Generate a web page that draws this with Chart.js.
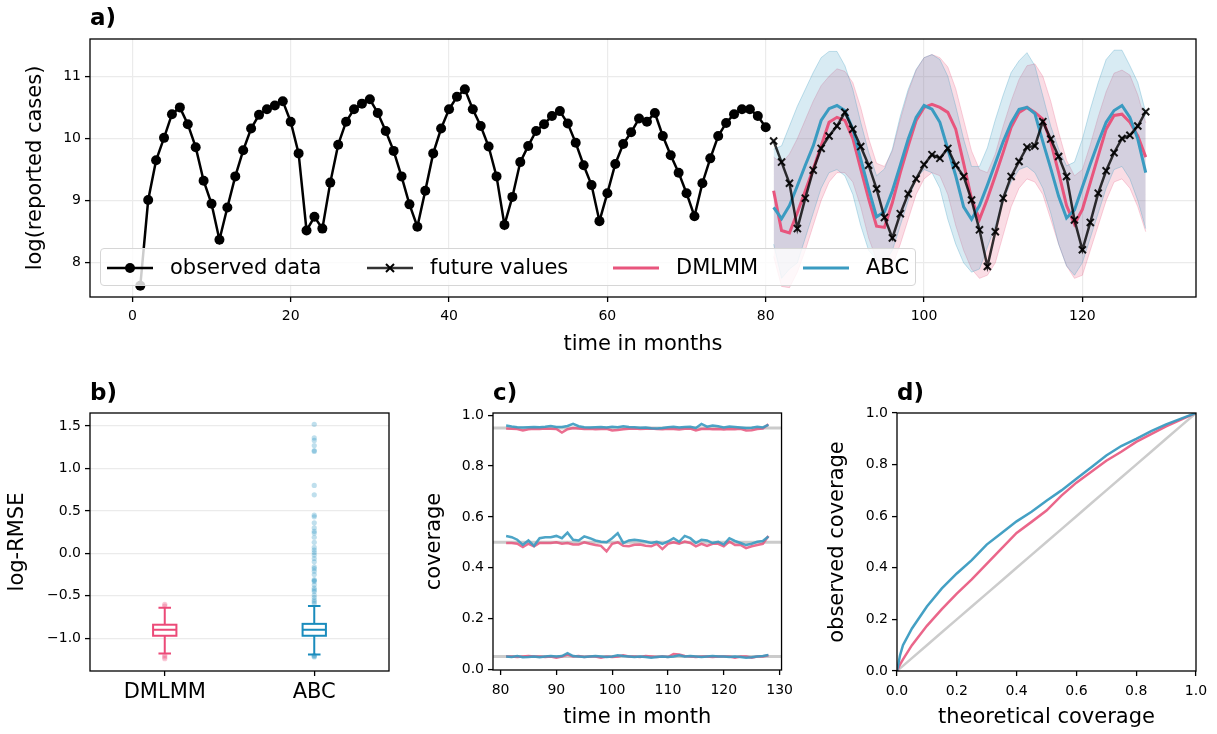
<!DOCTYPE html>
<html>
<head>
<meta charset="utf-8">
<script src="https://cdn.jsdelivr.net/npm/chart.js@4.4.1/dist/chart.umd.min.js"></script>
<style>
  body { margin: 0; background: #fff; width: 1217px; height: 734px; position: relative; overflow: hidden; font-family: "DejaVu Sans", sans-serif; }
  .panel { position: absolute; }
  .tag { position: absolute; font-weight: bold; font-size: 23px; line-height: 1; color: #000; }
  #legend { position: absolute; left: 100px; top: 248px; width: 816px; height: 38px; box-sizing: border-box;
            border: 1px solid #d6d6d6; border-radius: 4px; background: rgba(255,255,255,0.8); }
  #legend .item { position: absolute; top: 0; height: 38px; line-height: 38px; font-size: 21px; white-space: nowrap; }
  #legend svg { position: absolute; top: 9px; left: 0; }
  #legend span { position: absolute; left: 63px; top: -1px; }
</style>
</head>
<body>
<div class="panel" style="left:0;top:0;width:1217px;height:365px"><canvas id="chartA" width="1217" height="365"></canvas></div>
<div class="panel" style="left:0;top:380px;width:400px;height:354px"><canvas id="chartB" width="400" height="354"></canvas></div>
<div class="panel" style="left:400px;top:380px;width:400px;height:354px"><canvas id="chartC" width="400" height="354"></canvas></div>
<div class="panel" style="left:800px;top:380px;width:417px;height:354px"><canvas id="chartD" width="417" height="354"></canvas></div>

<div class="tag" style="left:90px;top:6px">a)</div>
<div class="tag" style="left:90px;top:381px">b)</div>
<div class="tag" style="left:493px;top:381px">c)</div>
<div class="tag" style="left:897px;top:381px">d)</div>

<div id="legend">
  <div class="item" style="left:6px">
    <svg width="46" height="20"><line x1="0" y1="10" x2="46" y2="10" stroke="#000" stroke-width="2.5"/><circle cx="23" cy="10" r="5" fill="#000"/></svg>
    <span>observed data</span>
  </div>
  <div class="item" style="left:266px">
    <svg width="46" height="20"><line x1="0" y1="10" x2="46" y2="10" stroke="rgba(0,0,0,0.8)" stroke-width="2.5"/><path d="M19 6 L27 14 M27 6 L19 14" stroke="#000" stroke-width="2"/></svg>
    <span>future values</span>
  </div>
  <div class="item" style="left:512px">
    <svg width="46" height="20"><line x1="0" y1="10" x2="46" y2="10" stroke="#e8557d" stroke-width="3"/></svg>
    <span>DMLMM</span>
  </div>
  <div class="item" style="left:702px">
    <svg width="46" height="20"><line x1="0" y1="10" x2="46" y2="10" stroke="#3a9bc1" stroke-width="3"/></svg>
    <span>ABC</span>
  </div>
</div>

<script>
// ---- panel a: observed series (months 1..80) and forecasts (months 81..128)
const obsStart = 1;
const observed = [7.63, 9.01, 9.65, 10.01, 10.39, 10.50, 10.23, 9.86, 9.32, 8.95,
  8.37, 8.89, 9.39, 9.81, 10.16, 10.38, 10.47, 10.53, 10.60, 10.27,
  9.76, 8.52, 8.74, 8.55, 9.29, 9.90, 10.27, 10.47, 10.56, 10.63,
  10.41, 10.12, 9.80, 9.39, 8.94, 8.58, 9.16, 9.76, 10.16, 10.47,
  10.67, 10.79, 10.47, 10.20, 9.87, 9.39, 8.61, 9.06, 9.62, 9.88,
  10.12, 10.23, 10.36, 10.44, 10.24, 9.93, 9.57, 9.25, 8.67, 9.12,
  9.59, 9.91, 10.10, 10.32, 10.27, 10.41, 10.04, 9.73, 9.45, 9.12,
  8.75, 9.28, 9.68, 10.04, 10.25, 10.39, 10.47, 10.47, 10.36, 10.18];

const futStart = 81;
const futureVals = [9.96, 9.62, 9.28, 8.55, 9.04, 9.49, 9.84, 10.04, 10.20, 10.42,
  10.15, 9.87, 9.57, 9.19, 8.73, 8.40, 8.79, 9.11, 9.35, 9.58,
  9.74, 9.68, 9.84, 9.57, 9.39, 9.01, 8.53, 7.94, 8.50, 9.04,
  9.39, 9.63, 9.86, 9.88, 10.27, 9.99, 9.71, 9.39, 8.69, 8.21,
  8.65, 9.12, 9.48, 9.77, 10.00, 10.05, 10.20, 10.43];

const dmlmmMean = [9.16, 8.52, 8.48, 8.81, 9.16, 9.51, 9.88, 10.26, 10.34, 10.29,
  10.00, 9.51, 9.03, 8.59, 8.57, 8.97, 9.45, 9.88, 10.29, 10.50,
  10.55, 10.50, 10.42, 10.15, 9.60, 9.03, 8.70, 9.03, 9.40, 9.78,
  10.18, 10.42, 10.50, 10.42, 10.31, 9.94, 9.45, 8.92, 8.62, 8.86,
  9.29, 9.72, 10.15, 10.37, 10.39, 10.26, 10.04, 9.70];
const dmlmmUpper = [9.70, 9.60, 9.75, 10.00, 10.30, 10.60, 10.85, 11.00, 11.12, 11.08,
  10.90, 10.50, 10.00, 9.60, 9.55, 9.80, 10.30, 10.75, 11.10, 11.30,
  11.35, 11.30, 11.15, 10.80, 10.30, 9.80, 9.50, 9.45, 9.75, 10.20,
  10.60, 10.95, 11.17, 11.20, 11.00, 10.60, 10.10, 9.65, 9.40, 9.50,
  9.90, 10.35, 10.75, 11.05, 11.10, 11.02, 10.70, 10.25];
const dmlmmLower = [8.10, 7.62, 7.60, 7.85, 8.20, 8.60, 9.00, 9.30, 9.45, 9.45,
  9.30, 8.90, 8.40, 8.05, 7.95, 7.95, 8.30, 8.70, 9.10, 9.35,
  9.45, 9.40, 9.10, 8.60, 8.20, 7.90, 7.75, 7.80, 8.00, 8.45,
  8.90, 9.20, 9.35, 9.30, 9.10, 8.70, 8.30, 7.95, 7.75, 7.80,
  8.20, 8.60, 9.00, 9.30, 9.35, 9.20, 8.90, 8.50];

const abcMean = [8.89, 8.71, 8.92, 9.24, 9.57, 9.88, 10.29, 10.48, 10.53, 10.45,
  10.15, 9.67, 9.19, 8.74, 8.82, 9.16, 9.57, 9.99, 10.34, 10.53,
  10.47, 10.26, 9.83, 9.40, 8.90, 8.70, 8.92, 9.25, 9.60, 9.95,
  10.25, 10.47, 10.50, 10.40, 9.95, 9.52, 9.07, 8.72, 8.85, 9.22,
  9.59, 9.94, 10.26, 10.45, 10.53, 10.34, 9.99, 9.45];
const abcUpper = [9.83, 9.88, 10.20, 10.52, 10.79, 11.06, 11.30, 11.40, 11.40, 11.17,
  10.79, 10.26, 9.78, 9.40, 9.51, 9.83, 10.36, 10.79, 11.11, 11.30,
  11.35, 11.27, 11.00, 10.52, 9.99, 9.55, 9.55, 9.85, 10.30, 10.70,
  11.06, 11.25, 11.38, 11.17, 10.69, 10.20, 9.83, 9.56, 9.62, 9.99,
  10.47, 10.90, 11.27, 11.42, 11.42, 11.17, 10.90, 10.42];
const abcLower = [8.30, 7.75, 7.90, 8.00, 8.40, 8.80, 9.20, 9.45, 9.50, 9.40,
  9.10, 8.60, 8.20, 8.05, 8.00, 8.20, 8.60, 9.00, 9.35, 9.50,
  9.45, 9.20, 8.70, 8.30, 8.00, 7.85, 7.90, 8.25, 8.60, 9.00,
  9.30, 9.50, 9.55, 9.45, 9.20, 8.80, 8.30, 7.95, 7.80, 8.00,
  8.40, 8.80, 9.20, 9.50, 9.55, 9.35, 9.00, 8.55];

const aTicksX = [0, 20, 40, 60, 80, 100, 120];
const aTicksY = [8, 9, 10, 11];

// ---- panel b: log-RMSE boxes
const boxNames = ['DMLMM', 'ABC'];
const boxQ1 = [-0.97, -0.97];
const boxMed = [-0.90, -0.90];
const boxQ3 = [-0.84, -0.83];
const whiskLo = [-1.18, -1.19];
const whiskHi = [-0.64, -0.62];
const dmlmmFliers = [-0.60, -0.62, -1.20, -1.22, -1.24];
const abcFliers = [1.52, 1.36, 1.33, 1.27, 1.21, 1.20, 0.80, 0.69, 0.45, 0.43, 0.36, 0.30, 0.26, 0.24,
  0.19, 0.13, 0.07, 0.04, 0.01, -0.02, -0.06, -0.10, -0.16, -0.18, -0.21, -0.25, -0.31, -0.32,
  -0.33, -0.37, -0.41, -0.43, -0.45, -0.49, -0.52, -0.55, -0.57, -0.59, -1.20, -1.21, -1.22];
const bTicksY = [-1.0, -0.5, 0.0, 0.5, 1.0, 1.5];

// ---- panel c: coverage per month (months 81..128) at the 5%, 50%, 95% levels
const refLevels = [0.05, 0.5, 0.95];
const covHiD = [.948, .947, .946, .940, .945, .947, .946, .948, .947, .946,
  .932, .945, .950, .948, .946, .947, .945, .946, .947, .940,
  .942, .945, .947, .948, .946, .947, .948, .946, .945, .947,
  .946, .944, .947, .948, .940, .946, .947, .945, .946, .944,
  .946, .945, .947, .940, .941, .946, .948, .965];
const covHiA = [.960, .956, .953, .952, .953, .954, .953, .955, .958, .954,
  .954, .958, .966, .957, .953, .952, .953, .954, .952, .955,
  .953, .957, .954, .953, .951, .952, .949, .948, .950, .953,
  .955, .952, .954, .955, .950, .966, .955, .960, .957, .952,
  .956, .954, .952, .950, .951, .955, .952, .962];
const covMidD = [.497, .497, .494, .481, .494, .484, .497, .497, .497, .500,
  .494, .497, .491, .491, .500, .494, .489, .486, .464, .494,
  .500, .486, .484, .490, .491, .486, .484, .494, .473, .494,
  .500, .494, .503, .497, .484, .494, .486, .494, .494, .484,
  .503, .489, .490, .477, .484, .489, .494, .525];
const covMidA = [.525, .520, .510, .490, .507, .486, .516, .520, .520, .525,
  .516, .538, .510, .507, .523, .516, .507, .502, .500, .516,
  .536, .497, .507, .510, .507, .503, .497, .502, .494, .503,
  .516, .502, .525, .516, .497, .510, .507, .497, .502, .491,
  .516, .505, .497, .489, .494, .502, .505, .523];
const covLoD = [.050, .050, .048, .050, .052, .050, .050, .048, .050, .045,
  .050, .058, .050, .052, .048, .050, .050, .045, .050, .048,
  .050, .055, .050, .050, .048, .052, .050, .048, .050, .048,
  .060, .058, .052, .050, .048, .050, .050, .048, .050, .050,
  .050, .045, .050, .050, .045, .050, .050, .055];
const covLoA = [.050, .048, .052, .047, .048, .050, .047, .050, .052, .050,
  .052, .063, .052, .050, .048, .050, .052, .050, .048, .050,
  .055, .052, .050, .048, .050, .048, .045, .048, .050, .048,
  .050, .055, .050, .052, .050, .048, .050, .052, .050, .050,
  .048, .050, .048, .045, .047, .050, .052, .056];
const cTicksX = [80, 90, 100, 110, 120, 130];
const unitTicks = [0, 0.2, 0.4, 0.6, 0.8, 1.0];

// ---- panel d: calibration curves
const theoCov = [0, 0.01, 0.02, 0.05, 0.1, 0.15, 0.2, 0.25, 0.3, 0.35, 0.4, 0.45, 0.5,
  0.55, 0.6, 0.65, 0.7, 0.75, 0.8, 0.85, 0.9, 0.95, 1.0];
const obsCovABC = [0, 0.06, 0.10, 0.165, 0.25, 0.32, 0.378, 0.43, 0.49, 0.535, 0.58, 0.617, 0.66,
  0.70, 0.745, 0.79, 0.835, 0.872, 0.90, 0.93, 0.956, 0.978, 1.0];
const obsCovDML = [0, 0.025, 0.045, 0.10, 0.175, 0.24, 0.30, 0.355, 0.415, 0.475, 0.535, 0.578, 0.622,
  0.68, 0.73, 0.772, 0.815, 0.85, 0.888, 0.918, 0.948, 0.974, 1.0];

const PINK = '#e8557d';
const BLUE = '#3a9bc1';
const BOX_COLORS = ['#ec4a78', '#1a8cbd'];

Chart.defaults.font.family = "'DejaVu Sans', sans-serif";
Chart.defaults.font.size = 14;
Chart.defaults.color = '#000';
Chart.defaults.animation = false;
Chart.defaults.plugins.legend.display = false;
Chart.defaults.plugins.tooltip.enabled = false;
Chart.defaults.elements.line.tension = 0;

const frame = {
  id: 'frame',
  afterDraw(chart) {
    const { ctx, chartArea: a } = chart;
    ctx.save();
    ctx.strokeStyle = '#000';
    ctx.lineWidth = 1.3;
    ctx.strokeRect(a.left, a.top, a.right - a.left, a.bottom - a.top);
    ctx.restore();
  }
};

const pts = (start, ys) => ys.map((y, i) => ({ x: start + i, y }));
const minusFmt = v => (v < 0 ? '\u2212' + Math.abs(v).toFixed(1) : v.toFixed(1));

function axis({ min, max, ticks, fmt, size, title, titlePad, grid, tickFont = 14, tickPad = 5 }) {
  return {
    type: 'linear', min, max,
    afterBuildTicks: s => { s.ticks = ticks.map(v => ({ value: v })); },
    afterFit: s => { if (s.isHorizontal()) s.height = size; else s.width = size; },
    ticks: { callback: fmt, font: { size: tickFont }, padding: tickPad, color: '#000', maxRotation: 0, autoSkip: false },
    grid: { drawOnChartArea: !!grid, color: grid || 'transparent', lineWidth: 1.2, tickLength: 5, tickColor: '#000', tickWidth: 1.3 },
    border: { display: false },
    title: { display: !!title, text: title, font: { size: 21 }, color: '#000', padding: titlePad || 0 }
  };
}

const opts = (padding, x, y) => ({
  responsive: false, devicePixelRatio: 1,
  layout: { padding },
  scales: { x, y }
});

// ---- a)
new Chart(document.getElementById('chartA'), {
  type: 'line',
  data: {
    datasets: [
      { data: pts(obsStart, observed), borderColor: '#000', backgroundColor: '#000', borderWidth: 2.5,
        pointRadius: 5, pointBorderWidth: 0 },
      { data: pts(futStart, futureVals), borderColor: 'rgba(0,0,0,0.8)', borderWidth: 2.5,
        pointStyle: 'crossRot', pointRadius: 5, pointBorderWidth: 2, pointBorderColor: 'rgba(0,0,0,0.9)' },
      { data: pts(futStart, abcMean), borderColor: BLUE, borderWidth: 3, pointRadius: 0 },
      { data: pts(futStart, dmlmmMean), borderColor: PINK, borderWidth: 3, pointRadius: 0 },
      { data: pts(futStart, abcUpper), borderColor: 'rgba(58,155,193,0.3)', borderWidth: 1, pointRadius: 0,
        fill: '+1', backgroundColor: 'rgba(58,155,193,0.2)' },
      { data: pts(futStart, abcLower), borderColor: 'rgba(58,155,193,0.3)', borderWidth: 1, pointRadius: 0 },
      { data: pts(futStart, dmlmmUpper), borderColor: 'rgba(232,85,125,0.25)', borderWidth: 1, pointRadius: 0,
        fill: '+1', backgroundColor: 'rgba(232,85,125,0.2)' },
      { data: pts(futStart, dmlmmLower), borderColor: 'rgba(232,85,125,0.25)', borderWidth: 1, pointRadius: 0 }
    ]
  },
  options: opts({ left: 0, right: 21, top: 39, bottom: 0 },
    axis({ min: -5.35, max: 134.35, ticks: aTicksX, fmt: v => String(v), size: 68, tickPad: 6,
           title: 'time in months', titlePad: { top: 0, bottom: 7.4 }, grid: '#ebebeb' }),
    axis({ min: 7.45, max: 11.6, ticks: aTicksY, fmt: v => String(v), size: 90, tickPad: 4,
           title: 'log(reported cases)', titlePad: { top: 23.4, bottom: 0 }, grid: '#ebebeb' })),
  plugins: [frame]
});

// ---- b)
const boxes = {
  id: 'boxes',
  afterDatasetsDraw(chart) {
    const { ctx, scales: { x, y } } = chart;
    ctx.save();
    ctx.lineWidth = 2;
    boxNames.forEach((name, i) => {
      const cx = x.getPixelForValue(i + 1);
      const half = x.getPixelForValue(i + 1.078) - cx;
      const cap = x.getPixelForValue(i + 1.042) - cx;
      ctx.strokeStyle = BOX_COLORS[i];
      const q1 = y.getPixelForValue(boxQ1[i]), q3 = y.getPixelForValue(boxQ3[i]);
      const med = y.getPixelForValue(boxMed[i]);
      const lo = y.getPixelForValue(whiskLo[i]), hi = y.getPixelForValue(whiskHi[i]);
      ctx.beginPath();
      ctx.moveTo(cx, q1); ctx.lineTo(cx, lo);
      ctx.moveTo(cx, q3); ctx.lineTo(cx, hi);
      ctx.moveTo(cx - cap, lo); ctx.lineTo(cx + cap, lo);
      ctx.moveTo(cx - cap, hi); ctx.lineTo(cx + cap, hi);
      ctx.moveTo(cx - half, med); ctx.lineTo(cx + half, med);
      ctx.stroke();
      ctx.strokeRect(cx - half, q3, 2 * half, q1 - q3);
    });
    ctx.restore();
  }
};

new Chart(document.getElementById('chartB'), {
  type: 'scatter',
  data: {
    datasets: [
      { data: dmlmmFliers.map(v => ({ x: 1, y: v })), backgroundColor: 'rgba(236,74,120,0.3)', pointRadius: 2.6, borderWidth: 0 },
      { data: abcFliers.map(v => ({ x: 2, y: v })), backgroundColor: 'rgba(26,140,189,0.28)', pointRadius: 2.6, borderWidth: 0 }
    ]
  },
  options: opts({ left: 0, right: 11, top: 33, bottom: 0 },
    axis({ min: 0.5, max: 2.5, ticks: [1, 2], fmt: v => boxNames[v - 1], size: 63, tickFont: 21, tickPad: 4 }),
    axis({ min: -1.385, max: 1.653, ticks: bTicksY, fmt: minusFmt, size: 90, tickPad: 4,
           title: 'log-RMSE', titlePad: { top: 5.4, bottom: 0 }, grid: '#ebebeb' })),
  plugins: [boxes, frame]
});

// ---- c)
const cLine = (ys, color) => ({ data: pts(futStart, ys), borderColor: color, borderWidth: 2.5, pointRadius: 0 });
new Chart(document.getElementById('chartC'), {
  type: 'line',
  data: {
    datasets: [
      cLine(covHiA, 'rgba(58,155,193,0.9)'), cLine(covMidA, 'rgba(58,155,193,0.9)'), cLine(covLoA, 'rgba(58,155,193,0.9)'),
      cLine(covHiD, 'rgba(232,85,125,0.85)'), cLine(covMidD, 'rgba(232,85,125,0.85)'), cLine(covLoD, 'rgba(232,85,125,0.85)'),
      ...refLevels.map(r => ({ data: [{ x: 78.65, y: r }, { x: 130.35, y: r }], borderColor: 'rgba(190,190,190,0.8)', borderWidth: 3, pointRadius: 0 }))
    ]
  },
  options: opts({ left: 0, right: 8, top: 33, bottom: 0 },
    axis({ min: 78.65, max: 130.35, ticks: cTicksX, fmt: v => String(v), size: 64, tickPad: 7,
           title: 'time in month', titlePad: { top: 0, bottom: 3.4 } }),
    axis({ min: -0.003, max: 1.009, ticks: unitTicks, fmt: v => v.toFixed(1), size: 93, tickPad: 4,
           title: 'coverage', titlePad: { top: 22.4, bottom: 0 } })),
  plugins: [frame]
});

// ---- d)
const dPts = ys => ys.map((y, i) => ({ x: theoCov[i], y }));
new Chart(document.getElementById('chartD'), {
  type: 'line',
  data: {
    datasets: [
      { data: dPts(obsCovABC), borderColor: 'rgba(58,155,193,0.95)', borderWidth: 2.5, pointRadius: 0 },
      { data: dPts(obsCovDML), borderColor: 'rgba(232,85,125,0.9)', borderWidth: 2.5, pointRadius: 0 },
      { data: dPts(theoCov), borderColor: '#cccccc', borderWidth: 2.5, pointRadius: 0 }
    ]
  },
  options: opts({ left: 0, right: 21, top: 33, bottom: 0 },
    axis({ min: 0, max: 1, ticks: unitTicks, fmt: v => v.toFixed(1), size: 63, tickPad: 7,
           title: 'theoretical coverage', titlePad: { top: 0, bottom: 3.4 } }),
    axis({ min: 0, max: 1, ticks: unitTicks, fmt: v => v.toFixed(1), size: 97, tickPad: 4,
           title: 'observed coverage', titlePad: { top: 25.4, bottom: 0 } })),
  plugins: [frame]
});
</script>
</body>
</html>
